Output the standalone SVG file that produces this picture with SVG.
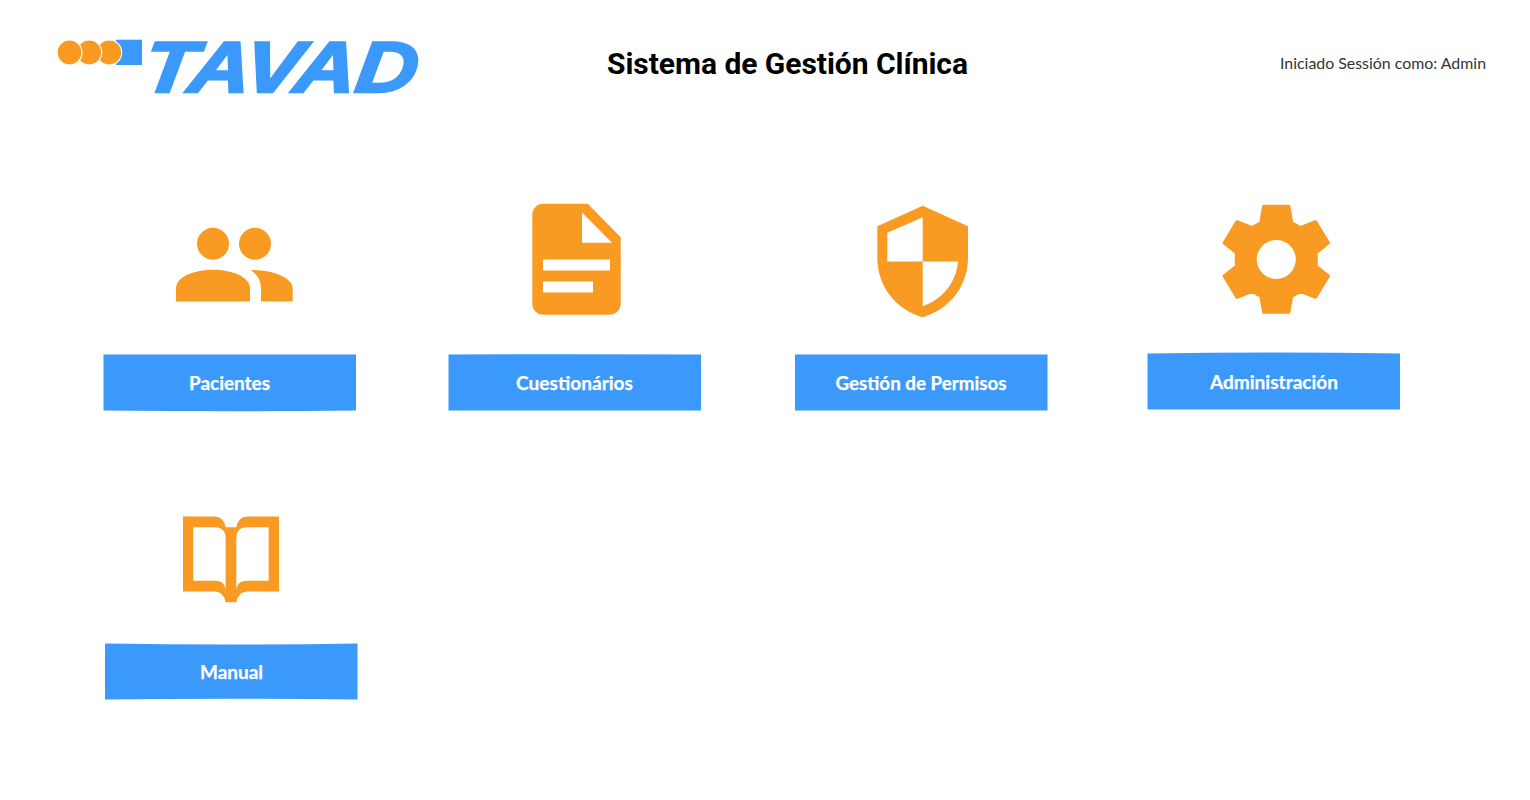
<svg xmlns="http://www.w3.org/2000/svg" width="1530" height="800" viewBox="0 0 1530 800">
<style>
.o{fill:#f99a23}
.b{fill:#3b99fc}
.l{font:700 19.500px Lato,"Liberation Sans",sans-serif;fill:#fff;stroke:#fff;stroke-width:.25;text-anchor:middle}
.h{font:700 30px Roboto,"Liberation Sans",sans-serif;fill:#000}
.u{font:400 15px Lato,"Liberation Sans",sans-serif;fill:#333}
</style>
<rect width="1530" height="800" fill="#fff"/>
<g id="logo">
<path class="b" d="M116 39.700H142V65H116Z"/>
<circle class="o" cx="109.200" cy="52.500" r="12.500" stroke="#fff" stroke-width="1.200"/>
<circle class="o" cx="89.200" cy="52.500" r="12.500" stroke="#fff" stroke-width="1.200"/>
<circle class="o" cx="69.500" cy="52.500" r="12.500" stroke="#fff" stroke-width="1.200"/>
<text class="b" transform="translate(141 91.500) skewX(-8)" stroke="#3b99fc" stroke-width="2.500" stroke-linejoin="miter" font-family="'Liberation Sans',sans-serif" font-weight="700" font-style="italic" font-size="72" textLength="274" lengthAdjust="spacingAndGlyphs">TAVAD</text>
</g>
<g id="header">
<text class="h" x="607" y="74" textLength="361">Sistema de Gestión Clínica</text>
<text class="u" x="1280" y="69" textLength="206" lengthAdjust="spacingAndGlyphs">Iniciado Sessión como: Admin</text>
</g>
<g id="pacientes">
<circle class="o" cx="213" cy="243.700" r="16"/>
<circle class="o" cx="255" cy="243.700" r="16"/>
<path class="o" d="M176 301.500V288.500C176 276.500 195 269.800 213 269.800S250 276.500 250 288.500V301.500Z"/>
<path class="o" d="M251 270.100C272 269.800 292.700 277.500 292.700 288.500V301.500H261V288.500C261 280.500 257 274.500 251 270.100Z"/>
<path class="b" d="M103.500 354.500H356V410.500Q230 412 103.500 410.500Z"/>
<text class="l" x="229.500" y="390" textLength="81" lengthAdjust="spacingAndGlyphs">Pacientes</text>
</g>
<g id="cuestionarios">
<path class="o" fill-rule="evenodd" transform="translate(0 .5)" d="M543 203.300H587.700L620.700 236.700V303.300A11 11 0 0 1 609.700 314.300H543.300A11 11 0 0 1 532.300 303.300V214.300A11 11 0 0 1 543.300 203.300ZM582 212V242.300H612ZM543 259V270H610V259ZM543 281V292H593V281Z"/>
<path class="b" d="M448.500 354.500Q575 354 701 354.500V410.500H448.500Z"/>
<text class="l" x="574.500" y="390" textLength="117" lengthAdjust="spacingAndGlyphs">Cuestionários</text>
</g>
<g id="permisos">
<path class="o" fill-rule="evenodd" transform="translate(0 .5)" d="M922.700 205.300L968 225.700V256.700C968 285 950 309 922.700 316.700C895 309 877.300 285 877.300 256.700V225.700ZM922.700 216.700L887.300 232.300V261H922.700ZM922.700 261V305.700C942 299 956 283 958 261Z"/>
<path class="b" d="M795 354.500H1047.500V410.500H795Z"/>
<text class="l" x="921" y="390" textLength="171" lengthAdjust="spacingAndGlyphs">Gestión de Permisos</text>
</g>
<g id="administracion">
<path class="o" stroke="#f99a23" stroke-width="3.500" stroke-linejoin="round" transform="translate(1276.300 259.500) scale(.975) translate(-1276.300 -259.500)" d="M1263.500 205H1289L1292 222L1301 227L1316.500 221L1329.500 242.500L1317 252.500V266.500L1329.500 276.500L1316.500 298L1301 292L1292 297L1289 313.500H1263.500L1260.500 297L1251.500 292L1236 298L1223 276.500L1235.500 266.500V252.500L1223 242.500L1236 221L1251.500 227L1260.500 222Z"/>
<circle cx="1276.300" cy="259.500" r="19.500" fill="#fff"/>
<path class="b" d="M1147.500 353.500Q1274 351.500 1400 353.500V409.500H1147.500Z"/>
<text class="l" x="1274" y="389" textLength="128" lengthAdjust="spacingAndGlyphs">Administración</text>
</g>
<g id="manual">
<path class="o" fill-rule="evenodd" transform="translate(95 505.500) scale(.3333)" d="M264 33H360Q385 33 392 65H424Q431 33 456 33H552V258H456Q431 258 424 290H392Q385 258 360 258H264ZM295 65V226H360Q392 226 392 258V100Q392 65 360 65ZM521 65H456Q424 65 424 100V258Q424 226 456 226H521Z"/>
<path class="b" d="M105 643.500Q231 645.500 357.500 643.500V699.500Q231 698 105 699.500Z"/>
<text class="l" x="231.500" y="679" textLength="63" lengthAdjust="spacingAndGlyphs">Manual</text>
</g>
<g id="connectors"/>
</svg>
